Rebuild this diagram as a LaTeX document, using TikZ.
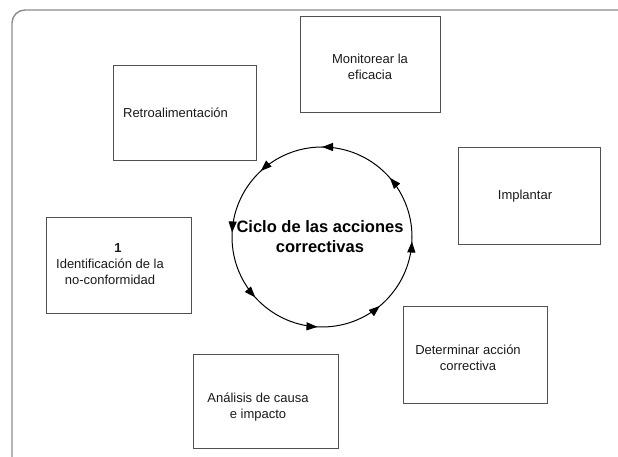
\documentclass[tikz,border=0pt]{standalone}
\usepackage{fontspec}
\setmainfont{Liberation Sans}
\usetikzlibrary{arrows.meta,decorations.markings}
\definecolor{ink}{HTML}{1A1A1A}
\definecolor{boxline}{HTML}{505050}
\definecolor{framegray}{HTML}{8C8C8C}

\begin{document}
\begin{tikzpicture}[
  x=1pt, y=1pt,
  font=\fontsize{13}{16}\selectfont,
  box/.style={draw=boxline, line width=0.8pt, minimum width=143pt, minimum height=96pt, inner sep=0pt},
  lbl/.style={text=ink, align=center, inner sep=0pt},
  title/.style={text=black, align=center, inner sep=0pt, font=\fontsize{16.5}{20}\selectfont\bfseries},
  ctip/.tip={Triangle[length=11pt, width=8pt]},
  cycle/.style={draw=black, line width=1pt, postaction={decorate},
    decoration={markings,
      mark=at position 0.114 with {\arrow{ctip}},
      mark=at position 0.250 with {\arrow{ctip}},
      mark=at position 0.369 with {\arrow{ctip}},
      mark=at position 0.492 with {\arrow{ctip}},
      mark=at position 0.617 with {\arrow{ctip}},
      mark=at position 0.742 with {\arrow{ctip}},
      mark=at position 0.861 with {\arrow{ctip}},
      mark=at position 0.992 with {\arrow{ctip}}}}
]
\useasboundingbox (0,0) rectangle (618,457);

% outer frame
\draw[framegray, line width=1.4pt, rounded corners=13pt] (12,0) -- (12,447) -- (618,447);

% steps of the cycle
\node[box, minimum height=95pt] (retro) at (184.5,344.5) {};
\node[box, minimum width=140pt] (monitor) at (370,393) {};
\node[box, minimum width=142pt, minimum height=97pt] (implant) at (529,261.5) {};
\node[box, minimum width=145pt] (ident) at (118.5,192) {};
\node[box, minimum width=144pt, minimum height=97pt] (determ) at (475,102.5) {};
\node[box, minimum width=145pt, minimum height=94pt] (analisis) at (265.5,56) {};

\node[lbl] (retrotxt) at (175.5,344) {Retroalimentación};
\node[lbl] (monitortxt) at (370,390) {Monitorear la\\eficacia};
\node[lbl] (implanttxt) at (525,261) {Implantar};
\node[lbl] (identtxt) at (110,192.5) {\hspace*{16pt}\textbf{1}\\Identificación de la\\no-conformidad};
\node[lbl] (determtxt) at (468,99) {Determinar acción\\correctiva};
\node[lbl] (analisistxt) at (258,49.5) {Análisis de causa\\e impacto};

% central cycle
\node[title] (ciclo) at (320,220) {Ciclo de las acciones\\correctivas};
\draw[cycle] (322,220) circle[radius=90];
\end{tikzpicture}
\end{document}
